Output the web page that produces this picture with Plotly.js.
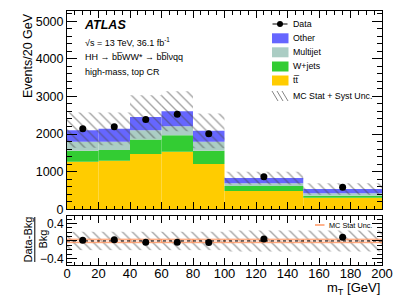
<!DOCTYPE html>
<html><head><meta charset="utf-8">
<script src="https://cdn.plot.ly/plotly-3.0.1.min.js"></script>
<style>html,body{margin:0;padding:0;background:#fff;} #chart{width:415px;height:302px;}</style>
</head><body><div id="chart"></div>
<script>
// ---- data ----
const binLow  = [0, 20, 40, 60, 80, 100, 150];
const binHigh = [20, 40, 60, 80, 100, 150, 200];
const ttbar    = [1263, 1289, 1467, 1528, 1202, 485, 308];
const wjets    = [291, 284, 390, 443, 352, 133, 53];
const multijet = [239, 220, 246, 239, 239, 72, 63];
const other    = [310, 345, 353, 397, 292, 140, 114];
const systUnc  = [470, 435, 576, 531, 461, 168, 152];
const data     = [2140, 2195, 2387, 2528, 2010, 865, 584];
const ratioUnc = [0.21, 0.21, 0.21, 0.21, 0.21, 0.24, 0.24];
const mcStatUnc = [0.04, 0.04, 0.04, 0.04, 0.04, 0.04, 0.04];
const yTicksRatio = [-0.4, 0, 0.4];

// ---- derived ----
const centers = binLow.map((l, i) => (l + binHigh[i]) / 2);
const widths  = binLow.map((l, i) => binHigh[i] - l);
const stacks = [
  {name: 'tt', vals: ttbar, color: '#ffcc00'},
  {name: 'W+jets', vals: wjets, color: '#33cc33'},
  {name: 'Multijet', vals: multijet, color: '#abcdc4'},
  {name: 'Other', vals: other, color: '#6666ff'}
];
const traces = [];
let base = centers.map(() => 0);
stacks.forEach(s => {
  traces.push({type: 'bar', x: centers, y: s.vals, base: base.slice(), width: widths,
    marker: {color: s.color, line: {width: 0}}, xaxis: 'x', yaxis: 'y', showlegend: false, hoverinfo: 'skip'});
  base = base.map((b, i) => b + s.vals[i]);
});
const total = base;
traces.push({type: 'bar', x: centers, y: systUnc.map(u => 2 * u), base: total.map((t, i) => t - systUnc[i]), width: widths,
  marker: {color: 'rgba(0,0,0,0)', line: {width: 0},
    pattern: {shape: '\\', fgcolor: '#4a4a4a', bgcolor: 'rgba(0,0,0,0)', size: 7, solidity: 0.2, fillmode: 'overlay'}},
  xaxis: 'x', yaxis: 'y', showlegend: false, hoverinfo: 'skip'});
traces.push({type: 'scatter', mode: 'markers', x: centers, y: data, marker: {color: '#000', size: 7},
  xaxis: 'x', yaxis: 'y', showlegend: false, hoverinfo: 'skip'});

// ratio panel
const ratio = data.map((d, i) => (d - total[i]) / total[i]);
traces.push({type: 'bar', x: centers, y: ratioUnc.map(u => 2 * u), base: ratioUnc.map(u => -u), width: widths,
  marker: {color: 'rgba(0,0,0,0)', line: {width: 0},
    pattern: {shape: '\\', fgcolor: '#4a4a4a', bgcolor: 'rgba(0,0,0,0)', size: 7, solidity: 0.2, fillmode: 'overlay'}},
  xaxis: 'x2', yaxis: 'y2', showlegend: false, hoverinfo: 'skip'});
traces.push({type: 'bar', x: centers, y: mcStatUnc.map(u => 2 * u), base: mcStatUnc.map(u => -u), width: widths,
  marker: {color: 'rgba(255,160,120,0.35)', line: {width: 1, color: '#ff9966'}},
  xaxis: 'x2', yaxis: 'y2', showlegend: false, hoverinfo: 'skip'});
traces.push({type: 'scatter', mode: 'markers', x: centers, y: ratio, marker: {color: '#000', size: 7},
  xaxis: 'x2', yaxis: 'y2', showlegend: false, hoverinfo: 'skip'});

// ---- layout helpers (pixel -> paper) ----
const L = 67, R = 382, T = 11, B = 265;
const px = v => (v - L) / (R - L);
const py = v => (B - v) / (B - T);
const font = 'Liberation Sans, Arial, Helvetica, sans-serif';

const ann = [];
const shapes = [];
function txt(text, x, y, size, opts) {
  ann.push(Object.assign({text: text, xref: 'paper', yref: 'paper', x: px(x), y: py(y), showarrow: false,
    xanchor: 'left', yanchor: 'middle', font: {family: font, size: size, color: '#000'}}, opts || {}));
}
txt('<b><i>ATLAS</i></b>', 82, 25, 12.5);
txt('√s = 13 TeV, 36.1 fb<sup>-1</sup>', 83, 42, 9);
txt('HH → bb̅WW* → bb̅lνqq', 83, 57, 9);
txt('high-mass, top CR', 83, 72, 9);

// legend
const legRows = [
  {label: 'Data', y: 24, kind: 'data'},
  {label: 'Other', y: 38.3, kind: 'box', color: '#6666ff'},
  {label: 'Multijet', y: 52.3, kind: 'box', color: '#abcdc4'},
  {label: 'W+jets', y: 66.5, kind: 'box', color: '#33cc33'},
  {label: 'tt̅', y: 80.5, kind: 'box', color: '#ffcc00'},
  {label: 'MC Stat + Syst Unc.', y: 96, kind: 'hatch'}
];
legRows.forEach(r => {
  txt(r.label, 290.5, r.y, 8.8);
  if (r.kind === 'box') {
    shapes.push({type: 'rect', xref: 'paper', yref: 'paper', x0: px(272), x1: px(288.5), y0: py(r.y + 5), y1: py(r.y - 5),
      fillcolor: r.color, line: {width: 0}});
  } else if (r.kind === 'data') {
    shapes.push({type: 'line', xref: 'paper', yref: 'paper', x0: px(272.5), x1: px(287.5), y0: py(r.y), y1: py(r.y),
      line: {color: '#000', width: 1}});
    shapes.push({type: 'circle', xref: 'paper', yref: 'paper', x0: px(277), x1: px(283), y0: py(r.y + 3), y1: py(r.y - 3),
      fillcolor: '#000', line: {width: 0}});
  } else {
    [0, 5, 10].forEach(d => {
      shapes.push({type: 'line', xref: 'paper', yref: 'paper', x0: px(272 + d), x1: px(278 + d), y0: py(r.y - 5), y1: py(r.y + 5),
        line: {color: '#666', width: 0.8}});
    });
  }
});

// ratio legend
shapes.push({type: 'line', xref: 'paper', yref: 'paper', x0: px(315), x1: px(324.5), y0: py(225), y1: py(225),
  line: {color: '#ff9966', width: 1.5}});
txt('MC Stat Unc.', 326.5, 225, 7.3);

// zero dashed line in ratio
shapes.push({type: 'line', xref: 'paper', yref: 'y2', x0: 0, x1: 1, y0: 0, y1: 0,
  line: {color: '#000', width: 1, dash: 'dot'}});

// axis titles
ann.push({text: 'Events/20 GeV', xref: 'paper', yref: 'paper', x: px(28), y: py(11.5), showarrow: false,
  textangle: -90, xanchor: 'center', yanchor: 'top', font: {family: font, size: 12.5, color: '#000'}});
ann.push({text: 'Data-Bkg', xref: 'paper', yref: 'paper', x: px(27), y: py(239.5), showarrow: false,
  textangle: -90, xanchor: 'center', yanchor: 'middle', font: {family: font, size: 11, color: '#000'}});
ann.push({text: 'Bkg', xref: 'paper', yref: 'paper', x: px(42), y: py(239.5), showarrow: false,
  textangle: -90, xanchor: 'center', yanchor: 'middle', font: {family: font, size: 11, color: '#000'}});
shapes.push({type: 'line', xref: 'paper', yref: 'paper', x0: px(34.8), x1: px(34.8), y0: py(217), y1: py(262),
  line: {color: '#000', width: 1}});
ann.push({text: 'm<sub>T</sub> [GeV]', xref: 'paper', yref: 'paper', x: 1.0, y: py(288), showarrow: false,
  xanchor: 'right', yanchor: 'middle', font: {family: font, size: 13, color: '#000'}});

const axCommon = {showline: true, linecolor: '#000', linewidth: 1, mirror: 'allticks', ticks: 'inside',
  tickcolor: '#000', tickwidth: 1, showgrid: false, zeroline: false, fixedrange: true};

const layout = {
  width: 415, height: 302,
  margin: {l: L, r: 415 - R, t: T, b: 302 - B},
  paper_bgcolor: '#fff', plot_bgcolor: '#fff',
  barmode: 'overlay', showlegend: false,
  font: {family: font, color: '#000'},
  xaxis: Object.assign({}, axCommon, {range: [0, 200], dtick: 20, tick0: 0, ticklen: 7, anchor: 'y',
    showticklabels: false, minor: {dtick: 5, ticklen: 3.5, ticks: 'inside', tickcolor: '#000'}}),
  yaxis: Object.assign({}, axCommon, {domain: [py(209.3), 1], range: [0, 5270], dtick: 1000, tick0: 0, ticklen: 10,
    tickfont: {family: font, size: 12.5, color: '#000'},
    minor: {dtick: 200, ticklen: 5, ticks: 'inside', tickcolor: '#000'}}),
  xaxis2: Object.assign({}, axCommon, {range: [0, 200], dtick: 20, tick0: 0, ticklen: 7, anchor: 'y2', matches: 'x',
    tickfont: {family: font, size: 13, color: '#000'}, ticklabelstandoff: -4,
    minor: {dtick: 5, ticklen: 3.5, ticks: 'inside', tickcolor: '#000'}}),
  yaxis2: Object.assign({}, axCommon, {domain: [0, py(216)], range: [-0.55, 0.57], tickmode: 'array',
    tickvals: yTicksRatio, ticktext: yTicksRatio.map(v => v === 0 ? '0' : (v < 0 ? '−' : '') + Math.abs(v).toString()),
    ticklen: 10, anchor: 'x2', tickfont: {family: font, size: 12, color: '#000'},
    minor: {dtick: 0.1, tick0: 0, ticklen: 5, ticks: 'inside', tickcolor: '#000'}}),
  annotations: ann,
  shapes: shapes
};

Plotly.newPlot('chart', traces, layout, {staticPlot: true, displayModeBar: false});
</script>
</body></html>
